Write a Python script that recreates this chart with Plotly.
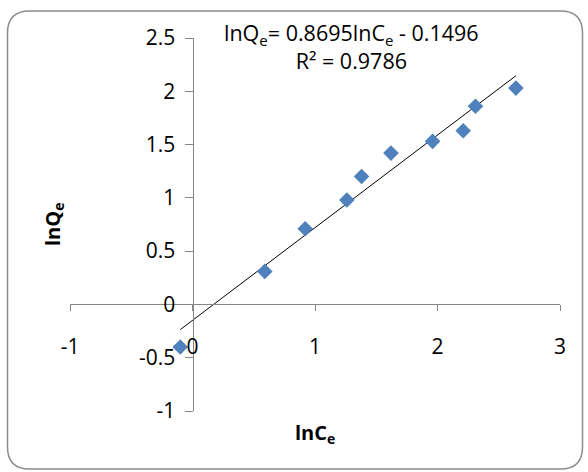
import plotly.graph_objects as go

# ---- data ----
ln_ce = [-0.10, 0.59, 0.92, 1.26, 1.38, 1.62, 1.96, 2.21, 2.31, 2.64]
ln_qe = [-0.40, 0.31, 0.71, 0.98, 1.20, 1.42, 1.53, 1.63, 1.86, 2.03]
slope = 0.8695
intercept = -0.1496
r_squared = 0.9786
x_tickvals = [-1, 0, 1, 2, 3]
x_ticktext = ["-1", "0", "1", "2", "3"]
y_tickvals = [-1, -0.5, 0, 0.5, 1, 1.5, 2, 2.5]
y_ticktext = ["-1", "-0.5", "0", "0.5", "1", "1.5", "2", "2.5"]
x_range = [-1, 3]
y_range = [-1, 2.5]

# ---- layout geometry ----
W, H = 588, 472
ml, mr, mt, mb = 70, 28, 38, 61
pw, ph = W - ml - mr, H - mt - mb
FONT = "Open Sans, Liberation Sans, sans-serif"
AXIS_COLOR = "#868686"


def px_x(p):
    return (p - ml) / pw


def px_y(p):
    return (H - mb - p) / ph


fig = go.Figure()

# trendline from stated coefficients across the data range
tx = [min(ln_ce), max(ln_ce)]
ty = [slope * v + intercept for v in tx]
fig.add_trace(go.Scatter(x=tx, y=ty, mode="lines",
                         line=dict(color="#000000", width=1),
                         hoverinfo="skip", showlegend=False))

fig.add_trace(go.Scatter(x=ln_ce, y=ln_qe, mode="markers",
                         marker=dict(symbol="diamond", size=12, color="#4F81BD",
                                     line=dict(width=0)),
                         showlegend=False))

x_pos = (0 - y_range[0]) / (y_range[1] - y_range[0])
y_pos = (0 - x_range[0]) / (x_range[1] - x_range[0])

fig.update_layout(
    width=W, height=H,
    margin=dict(l=ml, r=mr, t=mt, b=mb, pad=0),
    paper_bgcolor="white", plot_bgcolor="white",
    font=dict(family=FONT, size=21, color="#000000"),
    xaxis=dict(range=x_range, anchor="free", position=x_pos,
               showgrid=False, zeroline=False, showline=True,
               linecolor=AXIS_COLOR, linewidth=1,
               ticks="outside", ticklen=6, tickcolor=AXIS_COLOR, tickwidth=1,
               tickvals=x_tickvals, ticktext=x_ticktext,
               ticklabelstandoff=17,
               tickfont=dict(family=FONT, size=21, color="#000000")),
    yaxis=dict(range=y_range, anchor="free", position=y_pos,
               showgrid=False, zeroline=False, showline=True,
               linecolor=AXIS_COLOR, linewidth=1,
               ticks="outside", ticklen=8, tickcolor=AXIS_COLOR, tickwidth=1,
               tickvals=y_tickvals, ticktext=y_ticktext,
               ticklabelstandoff=5,
               tickfont=dict(family=FONT, size=21, color="#000000")),
)

# rounded chart-area border
x0, x1 = px_x(7.5), px_x(582.5)
y0, y1 = px_y(469), px_y(11)
rx, ry = 22 / pw, 22 / ph
path = (f"M {x0+rx},{y1} L {x1-rx},{y1} Q {x1},{y1} {x1},{y1-ry} "
        f"L {x1},{y0+ry} Q {x1},{y0} {x1-rx},{y0} "
        f"L {x0+rx},{y0} Q {x0},{y0} {x0},{y0+ry} "
        f"L {x0},{y1-ry} Q {x0},{y1} {x0+rx},{y1} Z")
fig.add_shape(type="path", path=path, xref="paper", yref="paper",
              line=dict(color="#8C8C8C", width=1.5), layer="below")

# equation and R² (one text block, two lines)
eq_text = (f"lnQ<sub>e</sub>= {slope}lnC<sub>e</sub> - {abs(intercept)}"
           f"<br>R² = {r_squared}")
fig.add_annotation(text=eq_text,
                   xref="paper", yref="paper", x=px_x(351), y=px_y(46),
                   showarrow=False, xanchor="center", yanchor="middle",
                   align="center",
                   font=dict(family=FONT, size=21.5))

# axis titles
fig.add_annotation(text="<b>lnC<sub>e</sub></b>", xref="paper", yref="paper",
                   x=px_x(315), y=px_y(433), showarrow=False,
                   xanchor="center", yanchor="middle",
                   font=dict(family=FONT, size=20))
fig.add_annotation(text="<b>lnQ<sub>e</sub></b>", xref="paper", yref="paper",
                   x=px_x(53), y=px_y(225), showarrow=False, textangle=-90,
                   xanchor="center", yanchor="middle",
                   font=dict(family=FONT, size=20))

fig.write_html("out.html", config={"displayModeBar": False},
               post_script="document.body.style.margin='0';")
